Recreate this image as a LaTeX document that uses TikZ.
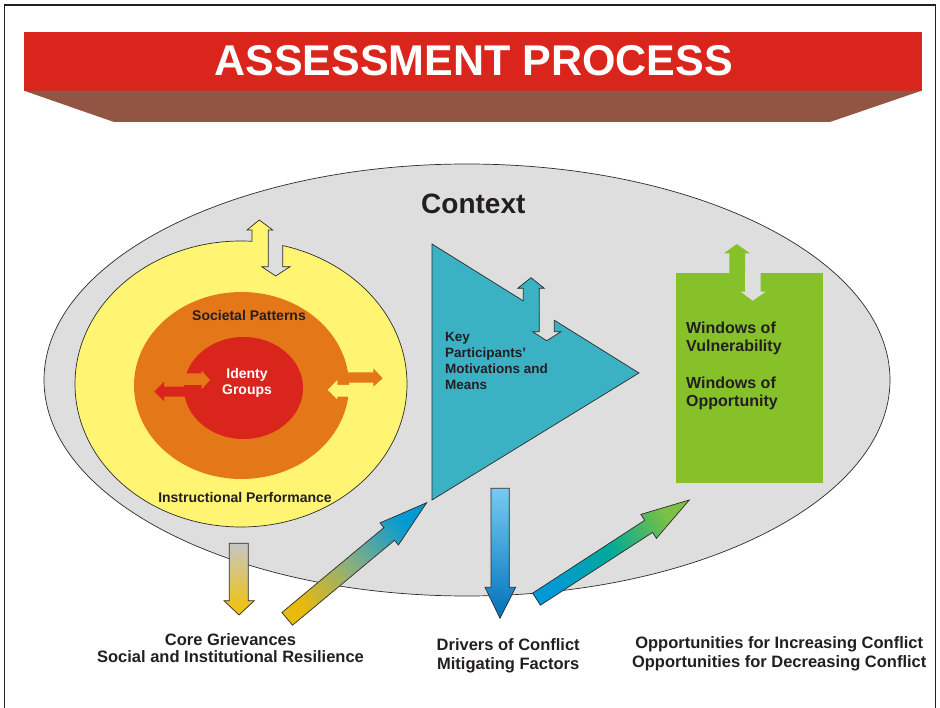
\documentclass[tikz,border=0pt]{standalone}
\usepackage{fontspec}
\setmainfont{Liberation Sans}
\definecolor{txtc}{HTML}{231F20}
\definecolor{linec}{HTML}{2B2B2B}
\definecolor{bannerred}{HTML}{DA251C}
\definecolor{bannerbrown}{HTML}{925544}
\definecolor{ctxgray}{HTML}{DEDEDE}
\definecolor{ringyellow}{HTML}{FFF573}
\definecolor{ringorange}{HTML}{E47818}
\definecolor{corered}{HTML}{DA251C}
\definecolor{triteal}{HTML}{3BB2C4}
\definecolor{boxgreen}{HTML}{86C12A}
\definecolor{gtop}{HTML}{C6C6C6}
\definecolor{gbot}{HTML}{F4C200}
\definecolor{ayellow}{HTML}{E8B90F}
\definecolor{agreen}{HTML}{84AE84}
\definecolor{ablue}{HTML}{0099D4}
\definecolor{bltop}{HTML}{78CAF2}
\definecolor{blbot}{HTML}{0072BA}
\definecolor{tealmid}{HTML}{00A99A}
\definecolor{grhead}{HTML}{7CC142}
\tikzset{
  lbl/.style={text=txtc, inner sep=0pt, font=\bfseries},
  edgeline/.style={draw=linec, line width=0.7pt},
}
\begin{document}
\begin{tikzpicture}[x=1pt,y=-1pt]
\useasboundingbox (0,0) rectangle (940,708);
\fill[white] (0,0) rectangle (940,708);
% frame
\draw[line width=1.4pt, draw=txtc] (4.5,708) -- (4.5,5) -- (935.5,5) -- (935.5,708);
% banner
\fill[bannerred] (24,32) rectangle (921.5,90.7);
\fill[bannerbrown] (24,90.7) -- (921.5,90.7) -- (830,122) -- (114,122) -- cycle;
\node[lbl, text=white, font=\bfseries\fontsize{43}{43}\selectfont] (title) at (473.6,61) {ASSESSMENT PROCESS};
% context ellipse
\draw[edgeline, fill=ctxgray] (467,380) ellipse [x radius=423pt, y radius=216pt];
\node[lbl, font=\bfseries\fontsize{28}{28}\selectfont] (context) at (473.3,204.3) {Context};
% yellow ring
\draw[edgeline, fill=ringyellow] (241,384) ellipse [x radius=166pt, y radius=143pt];
\fill[ringyellow] (252,248) -- (252,230) -- (247,230) -- (259.3,220) -- (272.7,230) -- (268.3,230) -- (268.3,248) -- cycle;
\fill[ctxgray] (268.3,236) -- (268.3,266.7) -- (261.7,266.7) -- (275.7,276) -- (290,266.7) -- (282.7,266.7) -- (282.7,236) -- cycle;
\draw[edgeline] (252,241.3) -- (252,230) -- (247,230) -- (259.3,220) -- (272.7,230) -- (268.3,230) -- (268.3,266.7) -- (261.7,266.7) -- (275.7,276) -- (290,266.7) -- (282.7,266.7) -- (282.7,245.5);
% orange ring and red core
\fill[ringorange] (241.5,385.5) ellipse [x radius=107.5pt, y radius=93.5pt];
\fill[corered] (243.5,388) ellipse [x radius=59.5pt, y radius=51pt];
\fill[corered] (190,386.7) -- (164,386.7) -- (164,381.7) -- (154.3,391.7) -- (164,401) -- (164,396.7) -- (190,396.7) -- cycle;
\fill[ringorange] (180,373.3) -- (201.7,373.3) -- (201.7,370.7) -- (210,380) -- (201.7,389.3) -- (201.7,385) -- (180,385) -- cycle;
\fill[ringorange] (340,372.3) -- (373.3,372.3) -- (373.3,368.3) -- (382.7,378.3) -- (373.3,386.7) -- (373.3,382.7) -- (340,382.7) -- cycle;
\fill[ringyellow] (355,385) -- (337.3,385) -- (337.3,380) -- (327.7,390) -- (337.3,399.3) -- (337.3,396.7) -- (355,396.7) -- cycle;
\node[lbl, font=\bfseries\fontsize{14}{14}\selectfont] (societal) at (249,315) {Societal Patterns};
\node[lbl, font=\bfseries\fontsize{14}{14}\selectfont] (instr) at (245,497) {Instructional Performance};
\node[lbl, text=white, align=center, font=\bfseries\fontsize{14}{16}\selectfont] (identy) at (247,382.5) {Identy\\Groups};
% teal triangle
\draw[edgeline, fill=triteal] (432,244) -- (639,373) -- (432,500) -- cycle;
\fill[triteal] (523.3,315) -- (523.3,288.3) -- (517.7,288.3) -- (531,277.7) -- (544.3,288.3) -- (539.3,288.3) -- (539.3,315) -- cycle;
\fill[ctxgray] (539.3,300) -- (539.3,331.7) -- (532.7,331.7) -- (546.7,340.7) -- (561,331.7) -- (554.3,331.7) -- (554.3,300) -- cycle;
\draw[edgeline] (523.3,300.9) -- (523.3,288.3) -- (517.7,288.3) -- (531,277.7) -- (544.3,288.3) -- (539.3,288.3) -- (539.3,331.7) -- (532.7,331.7) -- (546.7,340.7) -- (561,331.7) -- (554.3,331.7) -- (554.3,320.2);
\node[lbl, anchor=north west, align=left, font=\bfseries\fontsize{13.5}{16}\selectfont] (keyp) at (445,332.5) {Key\\Participants’\\Motivations and\\Means};
% green box
\fill[boxgreen] (676,273.3) rectangle (822.7,483.3);
\fill[boxgreen] (729.3,276) -- (729.3,253.3) -- (724,253.3) -- (736.7,244) -- (750,253.3) -- (745,253.3) -- (745,276) -- cycle;
\fill[ctxgray] (745,272) -- (745,291.7) -- (740.7,291.7) -- (752.7,300.7) -- (765.7,291.7) -- (760.7,291.7) -- (760.7,272) -- cycle;
\node[lbl, anchor=north west, align=left, font=\bfseries\fontsize{16}{18.4}\selectfont] (windows) at (686,321.5) {Windows of\\Vulnerability\\[18.4pt]Windows of\\Opportunity};
% bottom arrows
\shadedraw[edgeline, top color=gtop, bottom color=gbot] (229.3,543.3) -- (229.3,600.7) -- (224,600.7) -- (239,615) -- (254.3,600.7) -- (248.3,600.7) -- (248.3,543.3) -- cycle;
\shadedraw[edgeline, top color=ablue, bottom color=ayellow, middle color=agreen, shading angle=-50.2] (281.9,612.5) -- (383.9,527.6) -- (380.0,522.9) -- (426.7,502.7) -- (398.4,545.0) -- (394.5,540.3) -- (292.5,625.2) -- cycle;
\shadedraw[edgeline, top color=bltop, bottom color=blbot] (491,488.3) -- (491,587.3) -- (485,587.3) -- (500,618.3) -- (515.7,587.3) -- (509.3,587.3) -- (509.3,488.3) -- cycle;
\shadedraw[edgeline, top color=grhead, bottom color=ablue, middle color=tealmid, shading angle=-57] (532.6,593.1) -- (644.7,520.3) -- (640.9,514.4) -- (689.3,500) -- (656.4,538.4) -- (652.6,532.4) -- (540.4,605.2) -- cycle;
% bottom labels
\node[lbl, align=center, font=\bfseries\fontsize{16.5}{16.7}\selectfont] (griev) at (230.5,647.8) {Core Grievances\\Social and Institutional Resilience};
\node[lbl, align=center, font=\bfseries\fontsize{16.5}{19}\selectfont] (drivers) at (508.2,655.5) {Drivers of Conflict\\Mitigating Factors};
\node[lbl, align=center, font=\bfseries\fontsize{16.5}{19}\selectfont] (opps) at (779.2,654) {Opportunities for Increasing Conflict\\Opportunities for Decreasing Conflict};
\end{tikzpicture}
\end{document}
